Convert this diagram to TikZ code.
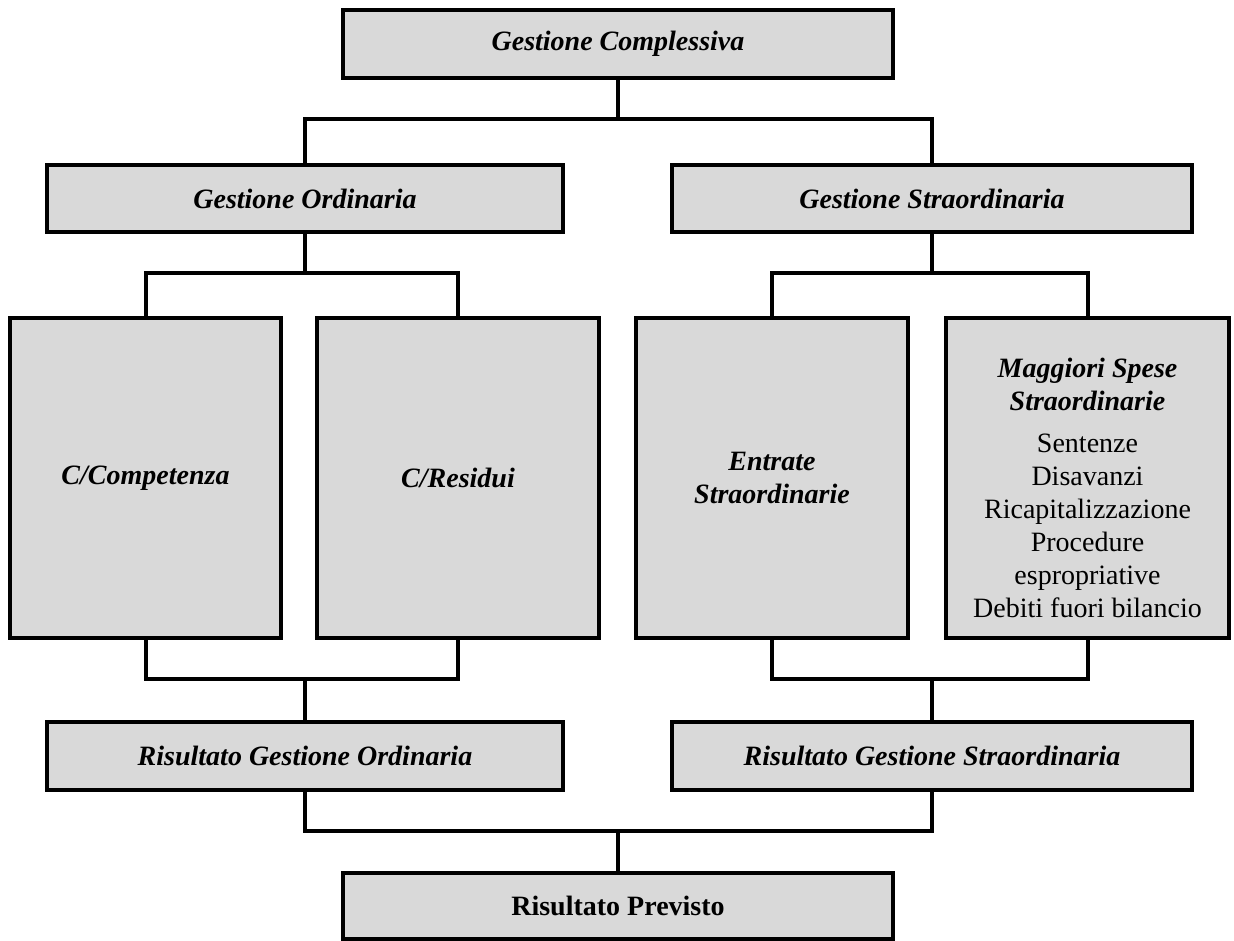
\documentclass[tikz,border=0pt]{standalone}
\usepackage{fontspec}
\setmainfont{Liberation Serif}
\usetikzlibrary{calc}

\definecolor{boxgray}{RGB}{217,217,217}

\tikzset{
  box/.style={draw, fill=boxgray, line width=4pt, inner sep=0pt, align=center,
    font=\fontsize{28}{33}\selectfont\bfseries\itshape},
  conn/.style={line width=4pt}
}

\begin{document}
\begin{tikzpicture}[x=1pt, y=-1pt]
\useasboundingbox (0,0) rectangle (1234,941);

% define the boxes
\node[box, minimum width=550pt, minimum height=68pt] (comp) at (618,44) {Gestione Complessiva};
\node[box, minimum width=516pt, minimum height=67pt] (ord) at (305,198.5) {Gestione Ordinaria};
\node[box, minimum width=520pt, minimum height=67pt] (str) at (932,198.5) {Gestione Straordinaria};

\node[box, minimum width=271pt, minimum height=320pt] (ccomp) at (145.5,478) {C/Competenza};
\node[box, minimum width=282pt, minimum height=320pt] (cres) at (458,478) {C/Residui};
\node[box, minimum width=272pt, minimum height=320pt] (entr) at (772,478) {Entrate\\Straordinarie};
\node[box, minimum width=283pt, minimum height=320pt] (magg) at (1087.5,478) {\rule{0pt}{39pt}Maggiori Spese\\Straordinarie\\[9pt]
  {\normalfont Sentenze}\\{\normalfont Disavanzi}\\{\normalfont Ricapitalizzazione}\\
  {\normalfont Procedure}\\{\normalfont espropriative}\\{\normalfont Debiti fuori bilancio}};

\node[box, minimum width=516pt, minimum height=68pt] (rord) at (305,756) {Risultato Gestione Ordinaria};
\node[box, minimum width=520pt, minimum height=68pt] (rstr) at (932,756) {Risultato Gestione Straordinaria};
\node[box, minimum width=550pt, minimum height=66pt, font=\fontsize{28}{33}\selectfont\bfseries] (prev) at (618,906) {Risultato Previsto};

% bus lines
\coordinate (bus1) at (0,119);
\coordinate (bus2) at (0,273);
\coordinate (bus3) at (0,679);
\coordinate (bus4) at (0,831);

% draw the connectors
\draw[conn] (comp.south) -- (comp.south |- bus1);
\draw[conn] (ord.north) |- (str.north |- bus1) -- (str.north);

\draw[conn] (ord.south) -- (ord.south |- bus2);
\draw[conn] (ccomp.north) |- (cres.north |- bus2) -- (cres.north);
\draw[conn] (str.south) -- (str.south |- bus2);
\draw[conn] (entr.north) |- (magg.north |- bus2) -- (magg.north);

\draw[conn] (ccomp.south) |- (cres.south |- bus3) -- (cres.south);
\draw[conn] (rord.north) -- (rord.north |- bus3);
\draw[conn] (entr.south) |- (magg.south |- bus3) -- (magg.south);
\draw[conn] (rstr.north) -- (rstr.north |- bus3);

\draw[conn] (rord.south) |- (rstr.south |- bus4) -- (rstr.south);
\draw[conn] (prev.north) -- (prev.north |- bus4);

\end{tikzpicture}
\end{document}
